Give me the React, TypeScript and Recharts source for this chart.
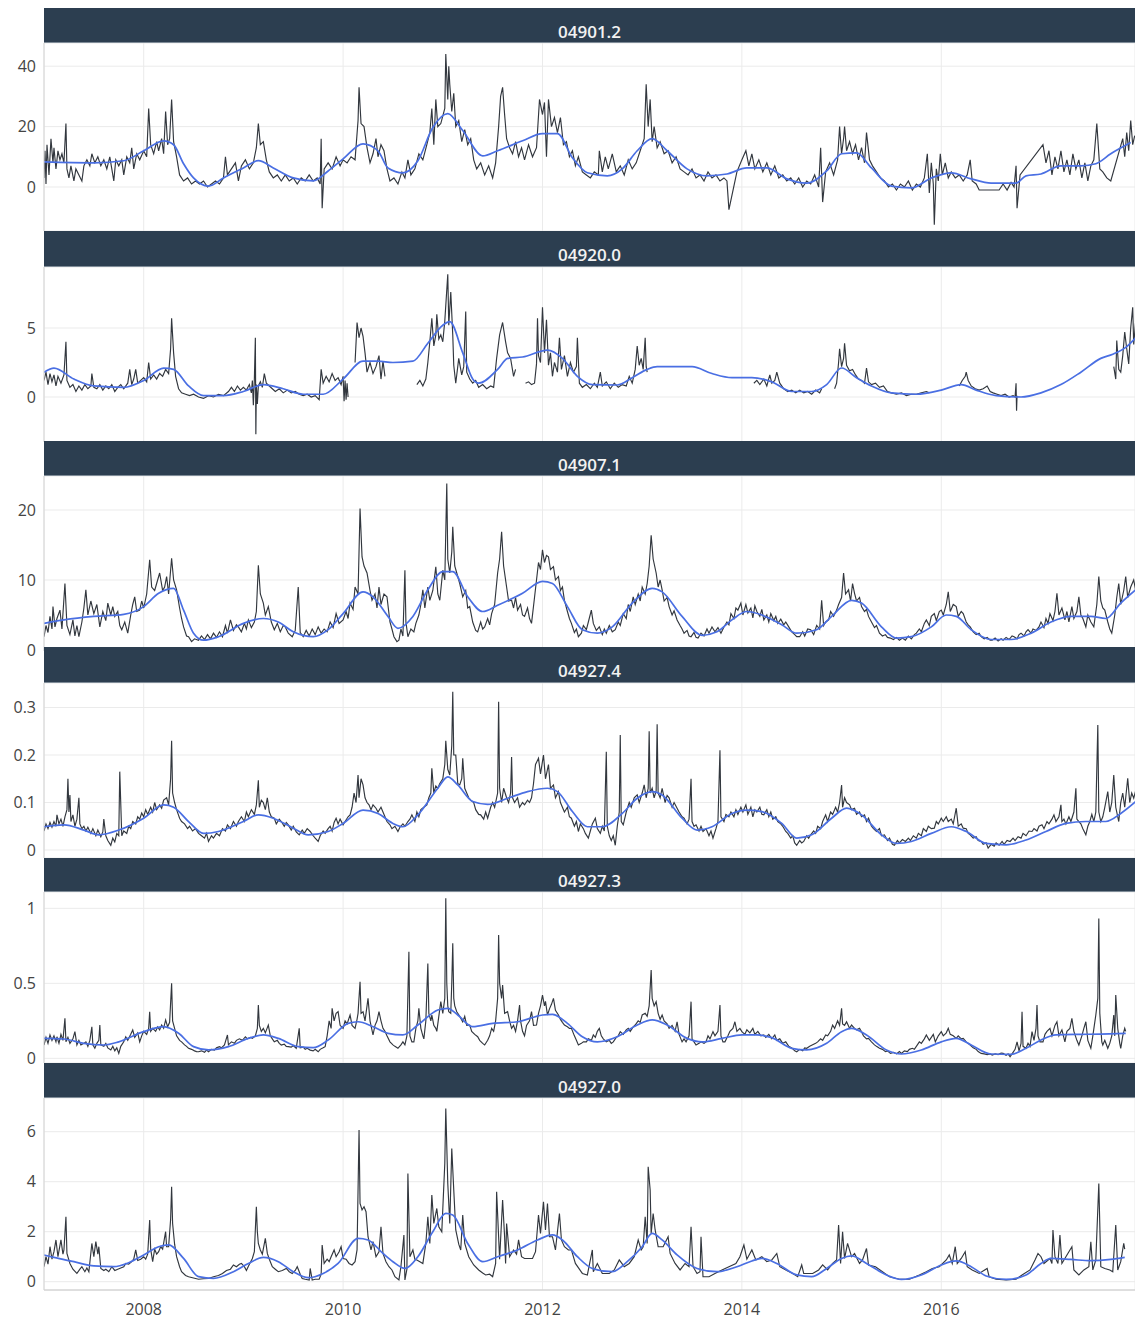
import React from 'react';
import { LineChart, Line, XAxis, YAxis, CartesianGrid } from 'recharts';

type Pt = [number, number | null];

const titles = ['04901.2', '04920.0', '04907.1', '04927.4', '04927.3', '04927.0'];
const xTicks = [2008, 2010, 2012, 2014, 2016];
const yTicks1 = [0, 20, 40];
const yTicks2 = [0, 5];
const yTicks3 = [0, 10, 20];
const yTicks4 = [0, 0.1, 0.2, 0.3];
const yTicks5 = [0, 0.5, 1];
const yTicks6 = [0, 2, 4, 6];

// ---------- 04901.2 ----------
const obs1: Pt[] = [
  [2007.0, 3], [2007.01, 12], [2007.02, 1], [2007.03, 14], [2007.05, 4], [2007.07, 16], [2007.09, 8], [2007.1, 13], [2007.12, 6], [2007.14, 12],
  [2007.16, 9], [2007.18, 11], [2007.2, 8], [2007.22, 21], [2007.23, 6], [2007.25, 3], [2007.27, 7], [2007.3, 2], [2007.32, 6], [2007.35, 4],
  [2007.38, 2], [2007.4, 7], [2007.43, 9], [2007.46, 7], [2007.48, 11], [2007.51, 8], [2007.54, 10], [2007.57, 7], [2007.6, 9], [2007.63, 6],
  [2007.66, 10], [2007.7, 2], [2007.72, 9], [2007.75, 7], [2007.78, 9], [2007.8, 4], [2007.83, 10], [2007.86, 8], [2007.88, 13], [2007.9, 6],
  [2007.93, 11], [2007.96, 9], [2008.0, 12], [2008.03, 10], [2008.05, 26], [2008.07, 14], [2008.1, 11], [2008.13, 15], [2008.15, 12], [2008.18, 16],
  [2008.2, 11], [2008.22, 25], [2008.24, 14], [2008.26, 16], [2008.28, 29], [2008.3, 15], [2008.33, 10], [2008.36, 4], [2008.4, 2], [2008.44, 3],
  [2008.48, 1], [2008.52, 2], [2008.56, 1], [2008.6, 2], [2008.64, 0], [2008.68, 1], [2008.72, 2], [2008.76, 1], [2008.8, 3], [2008.82, 10],
  [2008.84, 4], [2008.88, 6], [2008.92, 8], [2008.95, 2], [2008.98, 7], [2009.02, 9], [2009.06, 6], [2009.1, 8], [2009.13, 13], [2009.15, 21],
  [2009.17, 14], [2009.2, 15], [2009.23, 9], [2009.26, 5], [2009.3, 3], [2009.34, 4], [2009.38, 2], [2009.42, 4], [2009.46, 2], [2009.5, 3],
  [2009.54, 1], [2009.58, 3], [2009.62, 2], [2009.66, 4], [2009.7, 2], [2009.74, 3], [2009.77, 1], [2009.78, 16], [2009.79, -7], [2009.81, 6],
  [2009.85, 8], [2009.89, 6], [2009.93, 10], [2009.97, 7], [2010.0, 9], [2010.04, 8], [2010.08, 10], [2010.12, 9], [2010.15, 22], [2010.16, 33],
  [2010.18, 21], [2010.21, 20], [2010.24, 13], [2010.27, 8], [2010.3, 11], [2010.33, 16], [2010.35, 10], [2010.38, 14], [2010.41, 12], [2010.44, 6],
  [2010.47, 2], [2010.51, 3], [2010.55, 1], [2010.59, 5], [2010.62, 3], [2010.65, 9], [2010.68, 4], [2010.72, 6], [2010.76, 11], [2010.8, 9],
  [2010.84, 14], [2010.87, 18], [2010.89, 26], [2010.91, 14], [2010.93, 29], [2010.95, 20], [2010.98, 21], [2011.02, 26], [2011.03, 44], [2011.05, 29],
  [2011.06, 40], [2011.07, 34], [2011.09, 25], [2011.11, 31], [2011.13, 20], [2011.16, 22], [2011.19, 15], [2011.22, 19], [2011.25, 14], [2011.28, 16],
  [2011.31, 9], [2011.34, 6], [2011.38, 8], [2011.42, 4], [2011.46, 7], [2011.5, 3], [2011.53, 8], [2011.56, 20], [2011.58, 30], [2011.6, 33],
  [2011.62, 24], [2011.64, 16], [2011.67, 13], [2011.7, 11], [2011.73, 15], [2011.76, 10], [2011.79, 13], [2011.82, 9], [2011.86, 14], [2011.9, 10],
  [2011.94, 13], [2011.97, 29], [2012.0, 24], [2012.02, 28], [2012.04, 10], [2012.06, 29], [2012.09, 20], [2012.12, 23], [2012.15, 18], [2012.18, 23],
  [2012.21, 14], [2012.24, 15], [2012.27, 10], [2012.3, 12], [2012.33, 7], [2012.36, 10], [2012.4, 5], [2012.44, 4], [2012.48, 3], [2012.52, 5],
  [2012.56, 4], [2012.57, 12], [2012.6, 5], [2012.63, 10], [2012.66, 6], [2012.7, 11], [2012.74, 5], [2012.78, 7], [2012.82, 4], [2012.86, 9],
  [2012.9, 6], [2012.94, 8], [2012.98, 12], [2013.02, 16], [2013.04, 34], [2013.06, 20], [2013.08, 29], [2013.1, 15], [2013.12, 20], [2013.15, 13],
  [2013.18, 15], [2013.22, 11], [2013.26, 12], [2013.3, 8], [2013.34, 10], [2013.38, 6], [2013.42, 5], [2013.46, 4], [2013.5, 6], [2013.54, 3],
  [2013.58, 4], [2013.62, 2], [2013.66, 5], [2013.7, 3], [2013.74, 4], [2013.78, 2], [2013.82, 3], [2013.85, 2], [2013.87, -7.5], [2013.95, 5],
  [2014.0, 9], [2014.04, 12], [2014.07, 7], [2014.1, 11], [2014.13, 6], [2014.17, 9], [2014.21, 5], [2014.25, 8], [2014.29, 4], [2014.33, 7],
  [2014.37, 3], [2014.41, 4], [2014.45, 2], [2014.49, 3], [2014.53, 1], [2014.57, 3], [2014.61, 0], [2014.65, 2], [2014.69, 1], [2014.73, 4],
  [2014.77, 0], [2014.79, 13], [2014.81, -5], [2014.84, 5], [2014.88, 8], [2014.92, 4], [2014.96, 9], [2014.98, 20], [2015.0, 11], [2015.02, 16],
  [2015.03, 20], [2015.05, 12], [2015.08, 15], [2015.11, 11], [2015.14, 14], [2015.17, 9], [2015.2, 13], [2015.23, 8], [2015.25, 18], [2015.28, 9],
  [2015.31, 7], [2015.35, 5], [2015.39, 3], [2015.43, 2], [2015.47, 0], [2015.51, 1], [2015.55, -1], [2015.59, 1], [2015.63, 0], [2015.67, 2],
  [2015.71, -1], [2015.75, 1], [2015.79, 0], [2015.83, 3], [2015.86, 11], [2015.88, -2], [2015.9, 8], [2015.92, 1], [2015.93, -12.5], [2015.95, 6],
  [2015.97, 2], [2015.99, 11], [2016.01, 4], [2016.04, 8], [2016.07, 3], [2016.1, 5], [2016.14, 3], [2016.18, 4], [2016.22, 2], [2016.26, 4],
  [2016.29, 9], [2016.31, 2], [2016.35, 1], [2016.38, -1], [2016.58, -1], [2016.62, 1], [2016.66, -1], [2016.7, 1.5], [2016.73, 0], [2016.75, 7],
  [2016.76, -7], [2016.79, 4], [2017.02, 14], [2017.05, 8], [2017.08, 12], [2017.11, 4], [2017.14, 10], [2017.17, 6], [2017.2, 12], [2017.23, 5],
  [2017.26, 9], [2017.29, 4], [2017.32, 11], [2017.35, 6], [2017.38, 9], [2017.41, 3], [2017.44, 8], [2017.47, 2], [2017.5, 7], [2017.53, 9],
  [2017.56, 21], [2017.59, 6], [2017.62, 5], [2017.66, 3], [2017.7, 2], [2017.82, 16], [2017.84, 10], [2017.86, 18], [2017.88, 12], [2017.9, 22],
  [2017.92, 14], [2017.94, 17],
];
const trend1: Pt[] = [
  [2007.0, 8.3], [2007.5, 8.0], [2007.8, 8.7], [2008.0, 12], [2008.2, 15.3], [2008.3, 14], [2008.4, 7.7], [2008.5, 3], [2008.65, 0.3], [2008.8, 3],
  [2009.0, 6.3], [2009.15, 8.7], [2009.3, 6.3], [2009.5, 3], [2009.7, 2], [2009.85, 5.3], [2010.0, 9.3], [2010.2, 14.3], [2010.35, 12], [2010.45, 6.3],
  [2010.6, 4.7], [2010.75, 8.7], [2010.9, 19.7], [2011.05, 24.3], [2011.2, 18.7], [2011.4, 10.3], [2011.55, 12], [2011.8, 15.3], [2012.0, 17.7], [2012.15, 17.7],
  [2012.3, 9.7], [2012.45, 4.7], [2012.65, 3.7], [2012.8, 6], [2012.95, 12], [2013.1, 16], [2013.25, 12], [2013.45, 6], [2013.65, 3.7], [2013.85, 4.3],
  [2014.05, 6.3], [2014.25, 6.3], [2014.45, 2.7], [2014.65, 1.3], [2014.85, 5.3], [2015.0, 11], [2015.15, 11.3], [2015.3, 6.3], [2015.5, 0.3], [2015.7, -0.3],
  [2015.9, 3], [2016.1, 4.7], [2016.3, 2.7], [2016.5, 1.3], [2016.75, 1.3], [2016.85, 3.7], [2017.0, 4.3], [2017.2, 7], [2017.4, 7], [2017.55, 7.7],
  [2017.7, 11], [2017.9, 14.7],
];

// ---------- 04920.0 ----------
const obs2: Pt[] = [
  [2007.0, 1.2], [2007.02, 1.8], [2007.04, 0.9], [2007.06, 1.7], [2007.08, 1.1], [2007.1, 1.6], [2007.12, 0.8], [2007.14, 1.5], [2007.17, 1.0], [2007.2, 1.6],
  [2007.22, 4.0], [2007.23, 1.2], [2007.26, 0.7], [2007.29, 0.9], [2007.32, 0.4], [2007.35, 0.8], [2007.38, 0.5], [2007.41, 0.9], [2007.44, 0.6], [2007.47, 0.8],
  [2007.48, 1.7], [2007.5, 0.7], [2007.53, 0.6], [2007.56, 0.9], [2007.59, 0.5], [2007.62, 0.8], [2007.65, 0.6], [2007.68, 0.9], [2007.71, 0.4], [2007.74, 0.7],
  [2007.77, 0.9], [2007.8, 0.6], [2007.84, 1.0], [2007.86, 2.0], [2007.88, 0.9], [2007.9, 1.3], [2007.92, 2.0], [2007.94, 1.0], [2007.97, 1.2], [2008.0, 1.4],
  [2008.03, 1.1], [2008.05, 2.5], [2008.07, 1.3], [2008.1, 1.6], [2008.13, 1.3], [2008.16, 1.7], [2008.19, 1.5], [2008.22, 2.0], [2008.25, 1.7], [2008.27, 3.5],
  [2008.28, 5.7], [2008.3, 3.2], [2008.32, 1.5], [2008.35, 0.6], [2008.38, 0.3], [2008.42, 0.2], [2008.46, 0.1], [2008.5, 0.2], [2008.55, 0.0], [2008.6, -0.1],
  [2008.65, 0.1], [2008.7, 0.0], [2008.75, 0.2], [2008.8, 0.1], [2008.85, 0.4], [2008.88, 0.7], [2008.91, 0.4], [2008.94, 0.8], [2008.97, 0.5], [2009.0, 0.7],
  [2009.03, 0.5], [2009.06, 0.9], [2009.08, 0.3], [2009.09, 1.2], [2009.1, -0.6], [2009.11, 1.3], [2009.12, 4.3], [2009.125, -2.7], [2009.13, 0.9], [2009.14, -0.5],
  [2009.15, 0.8], [2009.17, 1.1], [2009.19, 0.7], [2009.21, 1.7], [2009.23, 1.0], [2009.26, 0.8], [2009.29, 0.6], [2009.32, 0.4], [2009.36, 0.6], [2009.4, 0.3],
  [2009.44, 0.5], [2009.48, 0.3], [2009.52, 0.4], [2009.56, 0.2], [2009.6, 0.1], [2009.64, 0.2], [2009.68, 0.0], [2009.72, 0.1], [2009.76, -0.2], [2009.78, 2.0],
  [2009.8, 1.0], [2009.83, 1.5], [2009.86, 1.1], [2009.89, 1.7], [2009.92, 1.2], [2009.95, 1.4], [2009.98, 0.9], [2010.0, 1.5], [2010.01, -0.3], [2010.02, 1.2],
  [2010.03, -0.2], [2010.04, 1.0], [2010.05, 0.0], [2010.06, null], [2010.12, 2.5], [2010.14, 5.4], [2010.16, 4.3], [2010.18, 5.0], [2010.2, 4.4], [2010.22, 3.2],
  [2010.24, 1.8], [2010.27, 2.5], [2010.3, 1.7], [2010.33, 2.2], [2010.36, 3.0], [2010.38, 1.3], [2010.4, 2.6], [2010.42, 1.5], [2010.43, null], [2010.74, 0.9],
  [2010.77, 1.2], [2010.8, 0.8], [2010.83, 1.3], [2010.85, 2.5], [2010.87, 4.0], [2010.89, 5.7], [2010.91, 3.7], [2010.93, 4.5], [2010.94, 6.0], [2010.96, 4.2],
  [2010.98, 4.5], [2011.0, 4.0], [2011.02, 5.5], [2011.05, 8.9], [2011.06, 5.2], [2011.08, 7.6], [2011.1, 4.5], [2011.11, 2.3], [2011.13, 1.0], [2011.16, 2.8],
  [2011.19, 1.6], [2011.21, 2.2], [2011.23, 6.2], [2011.24, 1.8], [2011.27, 1.3], [2011.3, 1.0], [2011.33, 1.2], [2011.36, 0.7], [2011.4, 0.9], [2011.44, 0.6],
  [2011.48, 0.8], [2011.51, 0.7], [2011.54, 2.8], [2011.57, 4.5], [2011.6, 5.4], [2011.63, 4.0], [2011.65, 3.2], [2011.68, 2.8], [2011.71, 1.5], [2011.73, 2.0],
  [2011.74, null], [2011.76, 1.9], [2011.765, null], [2011.83, 1.0], [2011.86, 1.1], [2011.89, 0.9], [2011.92, 1.0], [2011.94, 2.4], [2011.95, 5.7], [2011.96, 3.0],
  [2011.98, 2.5], [2012.0, 6.5], [2012.02, 3.2], [2012.04, 5.6], [2012.06, 2.3], [2012.08, 3.2], [2012.1, 1.5], [2012.12, 2.5], [2012.15, 1.8], [2012.17, 4.3],
  [2012.19, 2.0], [2012.22, 3.0], [2012.25, 1.5], [2012.28, 2.5], [2012.31, 1.8], [2012.34, 2.2], [2012.35, 4.3], [2012.37, 1.0], [2012.4, 0.7], [2012.44, 0.9],
  [2012.48, 0.6], [2012.52, 1.0], [2012.55, 0.7], [2012.58, 1.8], [2012.6, 0.8], [2012.64, 1.1], [2012.68, 0.6], [2012.72, 1.0], [2012.76, 0.7], [2012.8, 0.9],
  [2012.84, 0.8], [2012.87, 1.5], [2012.9, 1.0], [2012.93, 2.0], [2012.95, 3.7], [2012.97, 2.3], [2012.99, 2.8], [2013.01, 2.0], [2013.03, 4.3], [2013.04, 2.2],
  [2013.05, 1.8], [2013.06, null], [2014.12, 1.0], [2014.15, 1.2], [2014.18, 0.9], [2014.22, 1.3], [2014.25, 0.8], [2014.28, 1.6], [2014.3, 1.0], [2014.33, 1.2],
  [2014.35, 1.8], [2014.38, 1.0], [2014.42, 0.6], [2014.46, 0.4], [2014.5, 0.5], [2014.54, 0.3], [2014.58, 0.5], [2014.62, 0.3], [2014.66, 0.4], [2014.7, 0.2],
  [2014.74, 0.5], [2014.78, 0.3], [2014.8, 0.6], [2014.81, null], [2014.93, 0.6], [2014.95, 1.0], [2014.97, 2.5], [2014.98, 3.5], [2015.0, 2.2], [2015.02, 2.8],
  [2015.03, 3.9], [2015.05, 2.3], [2015.08, 1.9], [2015.11, 2.0], [2015.14, 1.6], [2015.17, 1.3], [2015.2, 1.2], [2015.23, 1.0], [2015.25, 2.1], [2015.27, 1.1],
  [2015.3, 0.9], [2015.34, 1.0], [2015.38, 0.7], [2015.42, 0.8], [2015.46, 0.4], [2015.5, 0.3], [2015.55, 0.2], [2015.6, 0.3], [2015.65, 0.1], [2015.7, 0.2],
  [2015.75, 0.2], [2015.8, 0.3], [2015.85, 0.4], [2015.88, 0.3], [2015.89, null], [2016.18, 0.8], [2016.21, 1.2], [2016.24, 1.5], [2016.25, 1.8], [2016.27, 1.2],
  [2016.3, 0.8], [2016.34, 0.6], [2016.38, 0.5], [2016.42, 0.6], [2016.46, 0.8], [2016.49, 0.4], [2016.52, 0.3], [2016.56, 0.2], [2016.6, 0.1], [2016.64, 0.2],
  [2016.68, 0.0], [2016.72, 0.1], [2016.74, 0.0], [2016.75, 1.0], [2016.755, -1.0], [2016.76, 0.1], [2016.77, null], [2017.73, 2.2], [2017.75, 1.3], [2017.76, 4.1],
  [2017.78, 2.0], [2017.8, 1.8], [2017.82, 3.0], [2017.84, 4.7], [2017.86, 3.5], [2017.88, 2.4], [2017.9, 5.0], [2017.92, 6.5], [2017.93, 3.8], [2017.95, 5.5],
];
const trend2: Pt[] = [
  [2007.0, 1.8], [2007.1, 2.1], [2007.3, 1.3], [2007.5, 0.8], [2007.8, 0.7], [2008.0, 1.2], [2008.2, 2.1], [2008.3, 2.0], [2008.45, 0.8], [2008.6, 0.1],
  [2008.8, 0.1], [2009.0, 0.4], [2009.2, 0.9], [2009.4, 0.6], [2009.6, 0.2], [2009.8, 0.2], [2010.0, 1.3], [2010.2, 2.6], [2010.35, 2.6], [2010.5, 2.5],
  [2010.7, 2.6], [2010.85, 3.9], [2011.0, 5.2], [2011.07, 5.46], [2011.2, 3.2], [2011.3, 1.3], [2011.36, 1.0], [2011.55, 2.0], [2011.65, 2.8], [2011.8, 2.9],
  [2012.05, 3.4], [2012.2, 2.8], [2012.35, 1.5], [2012.5, 0.9], [2012.75, 0.87], [2012.9, 1.4], [2013.05, 2.0], [2013.15, 2.2], [2013.5, 2.2], [2013.7, 1.7],
  [2013.9, 1.4], [2014.1, 1.4], [2014.3, 1.1], [2014.5, 0.4], [2014.7, 0.4], [2014.85, 0.9], [2015.0, 2.1], [2015.15, 1.4], [2015.3, 0.8], [2015.5, 0.3],
  [2015.75, 0.2], [2016.0, 0.5], [2016.2, 0.9], [2016.35, 0.5], [2016.55, 0.1], [2016.8, 0.0], [2017.0, 0.3], [2017.2, 0.9], [2017.4, 1.8], [2017.6, 2.8],
  [2017.72, 3.1], [2017.85, 3.6], [2017.95, 4.3],
];

// ---------- 04907.1 ----------
const obs3: Pt[] = [
  [2007.0, 1.9], [2007.02, 3.5], [2007.04, 2.5], [2007.06, 4.8], [2007.08, 3.0], [2007.09, 6.2], [2007.11, 3.3], [2007.13, 4.5], [2007.16, 5.7], [2007.18, 3.0],
  [2007.21, 9.5], [2007.23, 3.5], [2007.26, 2.2], [2007.29, 4.3], [2007.31, 2.0], [2007.33, 3.5], [2007.35, 1.9], [2007.38, 4.0], [2007.4, 6.0], [2007.42, 8.6],
  [2007.44, 5.0], [2007.47, 7.0], [2007.5, 5.2], [2007.53, 6.5], [2007.56, 3.3], [2007.59, 5.5], [2007.62, 4.2], [2007.64, 6.7], [2007.67, 5.0], [2007.69, 6.2],
  [2007.71, 4.8], [2007.74, 5.5], [2007.76, 3.5], [2007.78, 2.9], [2007.81, 4.0], [2007.84, 2.4], [2007.87, 5.0], [2007.89, 6.5], [2007.91, 7.6], [2007.93, 5.5],
  [2007.96, 5.7], [2007.98, 7.0], [2008.0, 6.0], [2008.03, 8.0], [2008.06, 12.9], [2008.08, 9.0], [2008.11, 8.5], [2008.13, 9.5], [2008.16, 11.0], [2008.19, 8.5],
  [2008.21, 9.0], [2008.23, 10.5], [2008.25, 8.0], [2008.28, 13.1], [2008.3, 10.0], [2008.33, 8.6], [2008.36, 6.0], [2008.38, 4.5], [2008.4, 3.3], [2008.43, 2.0],
  [2008.45, 1.9], [2008.48, 1.2], [2008.51, 1.6], [2008.55, 1.4], [2008.58, 2.0], [2008.61, 1.5], [2008.64, 2.2], [2008.67, 1.6], [2008.7, 2.4], [2008.73, 1.8],
  [2008.76, 2.6], [2008.79, 1.9], [2008.82, 3.5], [2008.84, 2.4], [2008.87, 4.3], [2008.9, 2.8], [2008.93, 3.6], [2008.95, 3.3], [2008.98, 2.6], [2009.01, 3.8],
  [2009.03, 3.0], [2009.05, 4.3], [2009.08, 3.2], [2009.11, 4.0], [2009.13, 5.5], [2009.15, 12.1], [2009.17, 8.0], [2009.2, 6.7], [2009.22, 5.0], [2009.25, 6.2],
  [2009.28, 4.0], [2009.31, 2.9], [2009.34, 3.8], [2009.37, 2.6], [2009.4, 3.5], [2009.42, 3.3], [2009.45, 2.4], [2009.49, 1.9], [2009.52, 2.8], [2009.55, 9.0],
  [2009.57, 2.5], [2009.6, 1.9], [2009.63, 2.8], [2009.66, 2.0], [2009.69, 3.0], [2009.72, 2.2], [2009.75, 3.3], [2009.78, 2.4], [2009.81, 3.0], [2009.84, 2.6],
  [2009.87, 4.0], [2009.9, 3.2], [2009.93, 5.2], [2009.96, 3.8], [2010.0, 4.3], [2010.03, 5.5], [2010.05, 4.5], [2010.07, 6.7], [2010.1, 5.8], [2010.12, 9.0],
  [2010.15, 8.0], [2010.17, 20.2], [2010.19, 13.3], [2010.21, 12.0], [2010.24, 11.0], [2010.27, 8.5], [2010.29, 7.1], [2010.32, 8.0], [2010.34, 6.0], [2010.36, 9.0],
  [2010.38, 6.5], [2010.41, 8.0], [2010.44, 7.6], [2010.47, 4.0], [2010.49, 3.0], [2010.51, 1.9], [2010.54, 1.2], [2010.56, 1.4], [2010.58, 3.0], [2010.6, 2.0],
  [2010.62, 11.4], [2010.63, 4.0], [2010.65, 1.9], [2010.68, 3.0], [2010.71, 2.6], [2010.73, 3.8], [2010.76, 5.0], [2010.78, 6.5], [2010.8, 8.6], [2010.82, 6.0],
  [2010.85, 9.0], [2010.87, 7.1], [2010.9, 8.5], [2010.93, 11.9], [2010.95, 8.0], [2010.97, 7.1], [2011.0, 11.4], [2011.02, 10.0], [2011.04, 23.8], [2011.05, 13.0],
  [2011.07, 11.0], [2011.09, 14.0], [2011.1, 17.6], [2011.12, 12.0], [2011.14, 11.0], [2011.17, 9.5], [2011.2, 7.6], [2011.23, 8.5], [2011.25, 6.0], [2011.27, 6.2],
  [2011.3, 4.0], [2011.33, 2.8], [2011.35, 2.6], [2011.38, 4.0], [2011.4, 3.0], [2011.42, 3.3], [2011.45, 4.5], [2011.47, 3.6], [2011.49, 5.2], [2011.52, 6.5],
  [2011.55, 11.0], [2011.57, 13.0], [2011.59, 16.9], [2011.61, 12.0], [2011.64, 9.0], [2011.66, 7.0], [2011.69, 7.1], [2011.71, 6.0], [2011.73, 7.5], [2011.75, 5.7],
  [2011.78, 6.5], [2011.8, 5.0], [2011.82, 4.8], [2011.85, 6.0], [2011.87, 4.5], [2011.89, 3.8], [2011.92, 7.5], [2011.94, 10.0], [2011.96, 12.5], [2011.98, 11.5],
  [2012.0, 14.3], [2012.02, 12.5], [2012.04, 13.5], [2012.06, 13.3], [2012.08, 11.5], [2012.11, 11.9], [2012.13, 10.0], [2012.16, 10.5], [2012.18, 8.5], [2012.2, 9.0],
  [2012.22, 7.1], [2012.25, 5.5], [2012.27, 4.5], [2012.29, 3.8], [2012.32, 2.5], [2012.34, 3.0], [2012.36, 1.9], [2012.39, 2.4], [2012.41, 3.5], [2012.44, 2.9],
  [2012.46, 4.0], [2012.49, 5.7], [2012.51, 3.8], [2012.54, 2.8], [2012.57, 3.3], [2012.6, 2.2], [2012.62, 3.0], [2012.64, 2.4], [2012.67, 3.5], [2012.7, 2.6],
  [2012.73, 2.9], [2012.76, 4.0], [2012.78, 3.5], [2012.81, 5.2], [2012.84, 4.5], [2012.86, 6.5], [2012.88, 5.5], [2012.91, 7.6], [2012.93, 6.5], [2012.96, 8.0],
  [2012.98, 7.0], [2013.0, 9.0], [2013.03, 8.0], [2013.05, 9.5], [2013.07, 12.0], [2013.09, 16.4], [2013.11, 13.0], [2013.14, 11.0], [2013.16, 9.0], [2013.18, 10.0],
  [2013.2, 8.6], [2013.22, 7.0], [2013.25, 7.5], [2013.27, 6.2], [2013.3, 5.0], [2013.32, 5.6], [2013.35, 4.3], [2013.38, 3.5], [2013.4, 3.0], [2013.42, 2.4],
  [2013.45, 2.8], [2013.47, 2.0], [2013.49, 1.9], [2013.52, 2.5], [2013.54, 1.8], [2013.56, 1.7], [2013.59, 2.4], [2013.62, 2.0], [2013.65, 3.0], [2013.67, 2.4],
  [2013.7, 3.3], [2013.73, 2.6], [2013.76, 3.2], [2013.79, 2.4], [2013.82, 3.3], [2013.85, 4.0], [2013.87, 3.6], [2013.89, 5.2], [2013.92, 4.5], [2013.94, 6.0],
  [2013.96, 5.7], [2013.99, 6.7], [2014.01, 5.0], [2014.04, 6.5], [2014.06, 5.3], [2014.09, 6.0], [2014.11, 4.6], [2014.13, 6.3], [2014.15, 5.5], [2014.18, 4.8],
  [2014.2, 5.8], [2014.22, 4.3], [2014.25, 5.0], [2014.27, 4.0], [2014.29, 5.2], [2014.32, 4.2], [2014.34, 4.8], [2014.36, 3.8], [2014.39, 4.4], [2014.42, 3.6],
  [2014.44, 4.0], [2014.47, 3.3], [2014.5, 2.6], [2014.53, 2.2], [2014.55, 1.9], [2014.58, 1.9], [2014.61, 2.6], [2014.63, 2.0], [2014.66, 3.0], [2014.69, 2.9],
  [2014.72, 2.2], [2014.75, 3.5], [2014.78, 3.0], [2014.8, 7.1], [2014.82, 3.5], [2014.84, 4.0], [2014.87, 4.3], [2014.89, 5.5], [2014.92, 4.8], [2014.95, 5.7],
  [2014.97, 6.5], [2015.0, 7.5], [2015.02, 11.0], [2015.04, 8.0], [2015.07, 8.6], [2015.09, 7.0], [2015.11, 9.5], [2015.13, 8.1], [2015.15, 7.0], [2015.18, 7.5],
  [2015.2, 6.2], [2015.23, 5.5], [2015.25, 5.8], [2015.27, 4.8], [2015.3, 4.0], [2015.33, 3.2], [2015.35, 3.5], [2015.38, 2.4], [2015.41, 2.0], [2015.44, 2.2],
  [2015.46, 1.8], [2015.49, 1.7], [2015.52, 1.5], [2015.55, 1.8], [2015.58, 1.4], [2015.61, 1.7], [2015.64, 1.4], [2015.67, 2.0], [2015.7, 1.6], [2015.73, 2.2],
  [2015.75, 2.4], [2015.78, 3.0], [2015.8, 2.6], [2015.83, 3.8], [2015.85, 4.3], [2015.88, 3.5], [2015.9, 4.8], [2015.93, 5.2], [2015.95, 4.2], [2015.98, 5.5],
  [2016.0, 5.7], [2016.02, 5.0], [2016.05, 6.5], [2016.07, 8.3], [2016.09, 5.5], [2016.12, 6.5], [2016.15, 6.2], [2016.17, 4.8], [2016.2, 5.5], [2016.22, 5.2],
  [2016.25, 4.0], [2016.27, 3.6], [2016.29, 3.3], [2016.32, 2.6], [2016.35, 2.2], [2016.38, 2.4], [2016.4, 1.9], [2016.43, 1.6], [2016.46, 1.8], [2016.49, 1.4],
  [2016.51, 1.4], [2016.54, 1.7], [2016.57, 1.3], [2016.6, 1.6], [2016.62, 1.4], [2016.65, 1.8], [2016.68, 1.5], [2016.71, 2.0], [2016.73, 1.9], [2016.76, 1.6],
  [2016.78, 2.2], [2016.8, 2.4], [2016.83, 2.0], [2016.85, 2.6], [2016.87, 2.9], [2016.9, 2.4], [2016.92, 3.0], [2016.95, 2.8], [2016.98, 3.3], [2017.0, 4.0],
  [2017.03, 3.2], [2017.05, 4.5], [2017.07, 3.8], [2017.09, 5.2], [2017.12, 4.2], [2017.14, 5.5], [2017.16, 8.1], [2017.18, 5.0], [2017.21, 6.0], [2017.24, 4.3],
  [2017.26, 5.5], [2017.28, 4.0], [2017.31, 6.2], [2017.33, 4.5], [2017.36, 5.5], [2017.38, 7.6], [2017.4, 5.0], [2017.42, 4.5], [2017.45, 3.3], [2017.47, 5.0],
  [2017.5, 4.0], [2017.53, 3.3], [2017.56, 6.5], [2017.58, 10.5], [2017.6, 7.0], [2017.62, 6.0], [2017.64, 5.7], [2017.67, 4.0], [2017.69, 3.0], [2017.71, 2.4],
  [2017.74, 5.0], [2017.76, 7.5], [2017.78, 9.5], [2017.8, 6.5], [2017.83, 8.5], [2017.85, 10.5], [2017.87, 7.5], [2017.9, 9.0], [2017.93, 10.0], [2017.95, 8.5],
];
const trend3: Pt[] = [
  [2007.0, 3.8], [2007.2, 4.3], [2007.5, 4.8], [2007.8, 5.1], [2008.0, 6.2], [2008.15, 8.1], [2008.3, 8.8], [2008.4, 5.7], [2008.5, 2.4], [2008.6, 1.4],
  [2008.75, 1.9], [2009.0, 3.8], [2009.2, 4.5], [2009.35, 4.0], [2009.5, 2.6], [2009.7, 1.9], [2009.85, 2.9], [2010.0, 5.2], [2010.2, 8.3], [2010.3, 7.6],
  [2010.45, 4.8], [2010.55, 3.1], [2010.7, 4.8], [2010.85, 8.6], [2011.0, 11.2], [2011.1, 11.2], [2011.25, 7.6], [2011.4, 5.5], [2011.55, 6.4], [2011.8, 8.1],
  [2012.0, 9.8], [2012.1, 9.5], [2012.25, 6.2], [2012.4, 2.9], [2012.55, 2.4], [2012.7, 3.3], [2012.9, 6.7], [2013.1, 8.8], [2013.2, 8.3], [2013.4, 4.8],
  [2013.6, 2.1], [2013.75, 2.6], [2013.9, 4.3], [2014.05, 5.5], [2014.2, 5.0], [2014.4, 3.6], [2014.55, 2.4], [2014.75, 2.9], [2014.9, 4.8], [2015.1, 7.1],
  [2015.2, 6.7], [2015.4, 3.3], [2015.55, 1.7], [2015.7, 1.9], [2015.9, 3.3], [2016.05, 5.0], [2016.15, 4.8], [2016.3, 2.9], [2016.5, 1.5], [2016.7, 1.5],
  [2016.9, 2.4], [2017.1, 4.0], [2017.3, 4.8], [2017.5, 4.8], [2017.65, 4.5], [2017.8, 6.7], [2017.95, 8.6],
];

// ---------- 04927.4 ----------
const obs4: Pt[] = [
  [2007.0, 0.04], [2007.02, 0.055], [2007.04, 0.045], [2007.06, 0.058], [2007.08, 0.048], [2007.1, 0.06], [2007.12, 0.05], [2007.13, 0.074], [2007.15, 0.055], [2007.17, 0.065],
  [2007.19, 0.05], [2007.21, 0.07], [2007.23, 0.085], [2007.24, 0.15], [2007.25, 0.08], [2007.26, 0.116], [2007.27, 0.06], [2007.29, 0.074], [2007.31, 0.05], [2007.33, 0.065],
  [2007.35, 0.11], [2007.36, 0.055], [2007.38, 0.045], [2007.4, 0.05], [2007.42, 0.04], [2007.44, 0.048], [2007.47, 0.035], [2007.49, 0.045], [2007.52, 0.03], [2007.54, 0.042],
  [2007.57, 0.028], [2007.59, 0.038], [2007.6, 0.065], [2007.62, 0.03], [2007.64, 0.02], [2007.67, 0.01], [2007.69, 0.025], [2007.71, 0.017], [2007.73, 0.035], [2007.75, 0.03],
  [2007.76, 0.165], [2007.78, 0.03], [2007.8, 0.04], [2007.83, 0.035], [2007.85, 0.05], [2007.87, 0.045], [2007.89, 0.06], [2007.92, 0.055], [2007.94, 0.07], [2007.96, 0.065],
  [2007.98, 0.078], [2008.0, 0.07], [2008.02, 0.085], [2008.04, 0.075], [2008.07, 0.09], [2008.09, 0.08], [2008.11, 0.1], [2008.13, 0.085], [2008.16, 0.095], [2008.18, 0.088],
  [2008.2, 0.105], [2008.23, 0.11], [2008.25, 0.095], [2008.27, 0.15], [2008.28, 0.23], [2008.29, 0.12], [2008.31, 0.1], [2008.33, 0.085], [2008.36, 0.067], [2008.38, 0.06],
  [2008.41, 0.055], [2008.44, 0.045], [2008.46, 0.05], [2008.49, 0.04], [2008.52, 0.045], [2008.55, 0.035], [2008.58, 0.03], [2008.61, 0.025], [2008.63, 0.035], [2008.65, 0.018],
  [2008.68, 0.03], [2008.7, 0.025], [2008.73, 0.035], [2008.76, 0.03], [2008.79, 0.045], [2008.82, 0.04], [2008.84, 0.053], [2008.87, 0.045], [2008.9, 0.06], [2008.93, 0.05],
  [2008.95, 0.06], [2008.98, 0.07], [2009.01, 0.06], [2009.03, 0.08], [2009.05, 0.07], [2009.08, 0.085], [2009.11, 0.075], [2009.13, 0.095], [2009.15, 0.147], [2009.16, 0.09],
  [2009.18, 0.105], [2009.2, 0.1], [2009.22, 0.085], [2009.24, 0.11], [2009.26, 0.08], [2009.28, 0.07], [2009.31, 0.067], [2009.33, 0.055], [2009.36, 0.065], [2009.38, 0.06],
  [2009.41, 0.05], [2009.43, 0.058], [2009.45, 0.053], [2009.48, 0.042], [2009.5, 0.05], [2009.53, 0.038], [2009.56, 0.032], [2009.59, 0.042], [2009.61, 0.035], [2009.64, 0.045],
  [2009.67, 0.039], [2009.7, 0.03], [2009.72, 0.025], [2009.75, 0.018], [2009.77, 0.03], [2009.8, 0.04], [2009.82, 0.035], [2009.85, 0.045], [2009.87, 0.05], [2009.89, 0.04],
  [2009.91, 0.058], [2009.93, 0.067], [2009.95, 0.055], [2009.97, 0.065], [2010.0, 0.053], [2010.02, 0.06], [2010.05, 0.07], [2010.07, 0.074], [2010.09, 0.09], [2010.11, 0.12],
  [2010.13, 0.1], [2010.15, 0.158], [2010.16, 0.11], [2010.18, 0.15], [2010.2, 0.137], [2010.22, 0.11], [2010.24, 0.1], [2010.26, 0.095], [2010.28, 0.085], [2010.3, 0.095],
  [2010.33, 0.088], [2010.35, 0.08], [2010.38, 0.09], [2010.4, 0.08], [2010.42, 0.07], [2010.44, 0.06], [2010.47, 0.053], [2010.49, 0.045], [2010.52, 0.05], [2010.55, 0.039],
  [2010.57, 0.048], [2010.6, 0.055], [2010.62, 0.05], [2010.65, 0.06], [2010.67, 0.065], [2010.69, 0.074], [2010.72, 0.06], [2010.74, 0.08], [2010.76, 0.07], [2010.78, 0.085],
  [2010.81, 0.09], [2010.84, 0.095], [2010.86, 0.11], [2010.88, 0.12], [2010.89, 0.172], [2010.91, 0.12], [2010.93, 0.135], [2010.95, 0.13], [2010.97, 0.14], [2011.0, 0.15],
  [2011.02, 0.18], [2011.03, 0.23], [2011.05, 0.17], [2011.07, 0.158], [2011.09, 0.22], [2011.1, 0.333], [2011.11, 0.2], [2011.13, 0.2], [2011.15, 0.14], [2011.17, 0.137],
  [2011.19, 0.15], [2011.2, 0.193], [2011.22, 0.13], [2011.24, 0.12], [2011.26, 0.11], [2011.28, 0.105], [2011.31, 0.1], [2011.33, 0.085], [2011.36, 0.075], [2011.38, 0.074],
  [2011.41, 0.065], [2011.43, 0.08], [2011.45, 0.067], [2011.48, 0.09], [2011.5, 0.1], [2011.52, 0.09], [2011.55, 0.12], [2011.56, 0.312], [2011.57, 0.13], [2011.59, 0.1],
  [2011.61, 0.13], [2011.64, 0.11], [2011.66, 0.1], [2011.68, 0.12], [2011.69, 0.196], [2011.7, 0.11], [2011.72, 0.1], [2011.75, 0.11], [2011.77, 0.09], [2011.8, 0.1],
  [2011.82, 0.095], [2011.85, 0.105], [2011.87, 0.1], [2011.89, 0.11], [2011.91, 0.14], [2011.93, 0.18], [2011.96, 0.193], [2011.98, 0.16], [2012.01, 0.2], [2012.03, 0.15],
  [2012.06, 0.18], [2012.08, 0.13], [2012.11, 0.137], [2012.13, 0.11], [2012.16, 0.123], [2012.18, 0.1], [2012.2, 0.09], [2012.22, 0.08], [2012.25, 0.09], [2012.27, 0.07],
  [2012.29, 0.067], [2012.32, 0.05], [2012.34, 0.06], [2012.36, 0.039], [2012.38, 0.055], [2012.41, 0.045], [2012.43, 0.035], [2012.46, 0.025], [2012.48, 0.04], [2012.5, 0.055],
  [2012.53, 0.067], [2012.55, 0.045], [2012.58, 0.035], [2012.6, 0.05], [2012.62, 0.04], [2012.64, 0.207], [2012.65, 0.05], [2012.67, 0.03], [2012.69, 0.02], [2012.71, 0.03],
  [2012.73, 0.01], [2012.75, 0.05], [2012.77, 0.08], [2012.78, 0.242], [2012.79, 0.06], [2012.81, 0.053], [2012.84, 0.08], [2012.87, 0.1], [2012.89, 0.09], [2012.92, 0.11],
  [2012.95, 0.116], [2012.97, 0.1], [2013.0, 0.12], [2013.02, 0.137], [2013.04, 0.11], [2013.06, 0.13], [2013.07, 0.25], [2013.08, 0.12], [2013.1, 0.13], [2013.12, 0.11],
  [2013.14, 0.125], [2013.15, 0.265], [2013.16, 0.12], [2013.18, 0.11], [2013.2, 0.13], [2013.23, 0.1], [2013.25, 0.115], [2013.27, 0.11], [2013.3, 0.09], [2013.32, 0.1],
  [2013.35, 0.088], [2013.37, 0.08], [2013.4, 0.07], [2013.42, 0.067], [2013.45, 0.055], [2013.47, 0.065], [2013.49, 0.15], [2013.5, 0.06], [2013.52, 0.05], [2013.54, 0.053],
  [2013.57, 0.04], [2013.59, 0.05], [2013.61, 0.039], [2013.64, 0.045], [2013.67, 0.03], [2013.69, 0.04], [2013.71, 0.025], [2013.74, 0.045], [2013.76, 0.06], [2013.78, 0.21],
  [2013.79, 0.07], [2013.82, 0.06], [2013.84, 0.075], [2013.87, 0.07], [2013.89, 0.08], [2013.92, 0.07], [2013.94, 0.085], [2013.96, 0.075], [2013.99, 0.09], [2014.01, 0.08],
  [2014.04, 0.095], [2014.06, 0.075], [2014.09, 0.09], [2014.11, 0.07], [2014.13, 0.085], [2014.15, 0.08], [2014.18, 0.09], [2014.2, 0.075], [2014.22, 0.074], [2014.25, 0.085],
  [2014.27, 0.07], [2014.29, 0.08], [2014.31, 0.065], [2014.34, 0.07], [2014.36, 0.06], [2014.39, 0.055], [2014.41, 0.05], [2014.44, 0.039], [2014.46, 0.035], [2014.49, 0.025],
  [2014.51, 0.03], [2014.53, 0.015], [2014.55, 0.01], [2014.58, 0.02], [2014.6, 0.015], [2014.62, 0.018], [2014.65, 0.03], [2014.67, 0.025], [2014.69, 0.032], [2014.72, 0.04],
  [2014.74, 0.035], [2014.76, 0.05], [2014.79, 0.045], [2014.81, 0.06], [2014.84, 0.074], [2014.86, 0.06], [2014.89, 0.08], [2014.91, 0.075], [2014.94, 0.09], [2014.96, 0.08],
  [2014.98, 0.1], [2015.0, 0.137], [2015.01, 0.09], [2015.03, 0.11], [2015.05, 0.1], [2015.08, 0.095], [2015.1, 0.085], [2015.13, 0.088], [2015.15, 0.075], [2015.18, 0.08],
  [2015.2, 0.07], [2015.23, 0.074], [2015.25, 0.06], [2015.27, 0.067], [2015.3, 0.05], [2015.32, 0.045], [2015.35, 0.039], [2015.38, 0.045], [2015.4, 0.03], [2015.43, 0.032],
  [2015.46, 0.02], [2015.48, 0.025], [2015.51, 0.012], [2015.53, 0.01], [2015.56, 0.02], [2015.58, 0.015], [2015.61, 0.022], [2015.64, 0.018], [2015.67, 0.025], [2015.69, 0.02],
  [2015.72, 0.03], [2015.75, 0.025], [2015.77, 0.035], [2015.8, 0.03], [2015.82, 0.045], [2015.85, 0.039], [2015.87, 0.05], [2015.9, 0.045], [2015.93, 0.046], [2015.95, 0.06],
  [2015.97, 0.055], [2016.0, 0.067], [2016.02, 0.06], [2016.05, 0.07], [2016.07, 0.06], [2016.1, 0.065], [2016.12, 0.055], [2016.15, 0.088], [2016.17, 0.05], [2016.2, 0.055],
  [2016.22, 0.046], [2016.25, 0.045], [2016.27, 0.035], [2016.29, 0.032], [2016.32, 0.025], [2016.35, 0.028], [2016.37, 0.02], [2016.4, 0.018], [2016.42, 0.012], [2016.45, 0.015],
  [2016.47, 0.004], [2016.5, 0.012], [2016.53, 0.008], [2016.55, 0.015], [2016.58, 0.01], [2016.61, 0.018], [2016.63, 0.012], [2016.66, 0.02], [2016.69, 0.018], [2016.72, 0.025],
  [2016.74, 0.02], [2016.77, 0.028], [2016.8, 0.025], [2016.82, 0.035], [2016.85, 0.03], [2016.88, 0.04], [2016.91, 0.039], [2016.93, 0.045], [2016.96, 0.04], [2016.98, 0.05],
  [2017.01, 0.053], [2017.03, 0.045], [2017.06, 0.06], [2017.08, 0.055], [2017.11, 0.065], [2017.13, 0.074], [2017.15, 0.06], [2017.18, 0.07], [2017.2, 0.095], [2017.21, 0.06],
  [2017.23, 0.065], [2017.25, 0.055], [2017.28, 0.07], [2017.3, 0.06], [2017.33, 0.08], [2017.35, 0.13], [2017.36, 0.065], [2017.38, 0.06], [2017.4, 0.055], [2017.42, 0.045],
  [2017.45, 0.032], [2017.47, 0.05], [2017.49, 0.06], [2017.51, 0.075], [2017.53, 0.06], [2017.55, 0.08], [2017.57, 0.263], [2017.58, 0.08], [2017.6, 0.06], [2017.62, 0.07],
  [2017.64, 0.09], [2017.67, 0.123], [2017.69, 0.08], [2017.71, 0.1], [2017.73, 0.158], [2017.75, 0.09], [2017.78, 0.06], [2017.8, 0.1], [2017.82, 0.12], [2017.84, 0.09],
  [2017.87, 0.151], [2017.89, 0.1], [2017.91, 0.12], [2017.93, 0.109], [2017.95, 0.125],
];
const trend4: Pt[] = [
  [2007.0, 0.049], [2007.2, 0.053], [2007.4, 0.042], [2007.55, 0.032], [2007.75, 0.042], [2008.0, 0.067], [2008.2, 0.095], [2008.3, 0.09], [2008.45, 0.06], [2008.6, 0.035],
  [2008.75, 0.039], [2009.0, 0.06], [2009.15, 0.074], [2009.3, 0.067], [2009.5, 0.046], [2009.65, 0.032], [2009.85, 0.039], [2010.0, 0.056], [2010.2, 0.084], [2010.35, 0.077],
  [2010.5, 0.056], [2010.6, 0.049], [2010.75, 0.074], [2010.95, 0.13], [2011.05, 0.154], [2011.15, 0.137], [2011.3, 0.102], [2011.45, 0.096], [2011.65, 0.109], [2011.85, 0.123],
  [2012.05, 0.13], [2012.15, 0.123], [2012.3, 0.081], [2012.45, 0.049], [2012.6, 0.049], [2012.8, 0.077], [2012.95, 0.109], [2013.1, 0.123], [2013.2, 0.116], [2013.4, 0.067],
  [2013.55, 0.042], [2013.7, 0.049], [2013.9, 0.077], [2014.05, 0.084], [2014.2, 0.081], [2014.4, 0.056], [2014.55, 0.025], [2014.7, 0.032], [2014.9, 0.067], [2015.05, 0.088],
  [2015.2, 0.074], [2015.4, 0.032], [2015.55, 0.014], [2015.7, 0.018], [2015.9, 0.035], [2016.1, 0.049], [2016.25, 0.039], [2016.45, 0.014], [2016.65, 0.011], [2016.85, 0.021],
  [2017.05, 0.039], [2017.25, 0.056], [2017.45, 0.06], [2017.65, 0.06], [2017.8, 0.077], [2017.95, 0.102],
];

// ---------- 04927.3 ----------
const obs5: Pt[] = [
  [2007.0, 0.089], [2007.02, 0.14], [2007.04, 0.1], [2007.06, 0.156], [2007.08, 0.12], [2007.1, 0.15], [2007.12, 0.11], [2007.13, 0.144], [2007.15, 0.1], [2007.17, 0.16],
  [2007.19, 0.12], [2007.21, 0.267], [2007.22, 0.11], [2007.24, 0.14], [2007.26, 0.1], [2007.29, 0.13], [2007.31, 0.178], [2007.33, 0.09], [2007.35, 0.12], [2007.37, 0.089],
  [2007.4, 0.1], [2007.42, 0.11], [2007.44, 0.08], [2007.46, 0.12], [2007.48, 0.21], [2007.49, 0.09], [2007.51, 0.067], [2007.53, 0.1], [2007.55, 0.12], [2007.56, 0.222],
  [2007.57, 0.09], [2007.6, 0.08], [2007.62, 0.1], [2007.64, 0.07], [2007.67, 0.056], [2007.69, 0.08], [2007.71, 0.05], [2007.73, 0.07], [2007.75, 0.033], [2007.77, 0.08],
  [2007.8, 0.11], [2007.82, 0.144], [2007.84, 0.12], [2007.87, 0.16], [2007.89, 0.189], [2007.91, 0.14], [2007.94, 0.17], [2007.96, 0.11], [2007.98, 0.15], [2008.0, 0.18],
  [2008.03, 0.16], [2008.05, 0.2], [2008.06, 0.311], [2008.07, 0.18], [2008.09, 0.2], [2008.12, 0.18], [2008.14, 0.21], [2008.16, 0.19], [2008.18, 0.222], [2008.2, 0.2],
  [2008.22, 0.256], [2008.24, 0.21], [2008.26, 0.24], [2008.28, 0.5], [2008.29, 0.25], [2008.31, 0.2], [2008.33, 0.15], [2008.36, 0.12], [2008.38, 0.11], [2008.41, 0.09],
  [2008.43, 0.08], [2008.45, 0.067], [2008.48, 0.06], [2008.51, 0.05], [2008.53, 0.045], [2008.55, 0.044], [2008.58, 0.05], [2008.61, 0.04], [2008.63, 0.055], [2008.65, 0.044],
  [2008.68, 0.06], [2008.71, 0.055], [2008.73, 0.07], [2008.76, 0.078], [2008.78, 0.07], [2008.81, 0.09], [2008.84, 0.156], [2008.85, 0.09], [2008.88, 0.11], [2008.91, 0.1],
  [2008.93, 0.12], [2008.96, 0.13], [2008.99, 0.12], [2009.02, 0.144], [2009.04, 0.13], [2009.07, 0.14], [2009.09, 0.133], [2009.12, 0.15], [2009.14, 0.2], [2009.15, 0.356],
  [2009.16, 0.22], [2009.18, 0.18], [2009.2, 0.2], [2009.22, 0.17], [2009.25, 0.222], [2009.27, 0.15], [2009.29, 0.13], [2009.31, 0.11], [2009.34, 0.12], [2009.36, 0.1],
  [2009.38, 0.089], [2009.41, 0.095], [2009.43, 0.08], [2009.45, 0.078], [2009.48, 0.075], [2009.5, 0.085], [2009.53, 0.067], [2009.56, 0.2], [2009.57, 0.07], [2009.6, 0.075],
  [2009.62, 0.06], [2009.64, 0.067], [2009.67, 0.055], [2009.7, 0.05], [2009.72, 0.06], [2009.75, 0.044], [2009.77, 0.06], [2009.8, 0.07], [2009.82, 0.078], [2009.84, 0.15],
  [2009.86, 0.25], [2009.88, 0.2], [2009.89, 0.333], [2009.91, 0.25], [2009.93, 0.3], [2009.95, 0.311], [2009.97, 0.22], [2010.0, 0.2], [2010.02, 0.25], [2010.04, 0.23],
  [2010.07, 0.289], [2010.09, 0.22], [2010.12, 0.2], [2010.14, 0.26], [2010.15, 0.3], [2010.17, 0.511], [2010.18, 0.3], [2010.2, 0.311], [2010.22, 0.25], [2010.25, 0.4],
  [2010.27, 0.25], [2010.3, 0.156], [2010.32, 0.22], [2010.34, 0.25], [2010.36, 0.311], [2010.38, 0.25], [2010.4, 0.2], [2010.42, 0.18], [2010.44, 0.15], [2010.47, 0.11],
  [2010.5, 0.09], [2010.52, 0.08], [2010.55, 0.067], [2010.58, 0.09], [2010.6, 0.11], [2010.62, 0.09], [2010.64, 0.15], [2010.66, 0.711], [2010.67, 0.15], [2010.69, 0.11],
  [2010.71, 0.11], [2010.73, 0.2], [2010.75, 0.25], [2010.76, 0.333], [2010.78, 0.2], [2010.8, 0.15], [2010.81, 0.13], [2010.83, 0.25], [2010.85, 0.633], [2010.86, 0.3],
  [2010.88, 0.25], [2010.89, 0.289], [2010.91, 0.22], [2010.93, 0.2], [2010.94, 0.18], [2010.96, 0.28], [2010.98, 0.378], [2011.0, 0.3], [2011.02, 0.4], [2011.03, 1.067],
  [2011.04, 0.5], [2011.05, 0.35], [2011.06, 0.311], [2011.08, 0.3], [2011.09, 0.5], [2011.1, 0.767], [2011.11, 0.4], [2011.12, 0.35], [2011.14, 0.311], [2011.17, 0.28],
  [2011.2, 0.244], [2011.22, 0.28], [2011.24, 0.22], [2011.27, 0.222], [2011.29, 0.18], [2011.32, 0.16], [2011.35, 0.144], [2011.37, 0.12], [2011.4, 0.1], [2011.42, 0.089],
  [2011.45, 0.12], [2011.47, 0.15], [2011.49, 0.2], [2011.51, 0.18], [2011.53, 0.25], [2011.55, 0.4], [2011.56, 0.822], [2011.57, 0.5], [2011.59, 0.4], [2011.6, 0.489],
  [2011.62, 0.3], [2011.65, 0.311], [2011.67, 0.25], [2011.69, 0.2], [2011.71, 0.22], [2011.73, 0.18], [2011.75, 0.25], [2011.77, 0.356], [2011.78, 0.25], [2011.8, 0.18],
  [2011.82, 0.15], [2011.84, 0.22], [2011.87, 0.25], [2011.89, 0.311], [2011.91, 0.22], [2011.94, 0.222], [2011.96, 0.3], [2011.98, 0.35], [2012.0, 0.422], [2012.02, 0.35],
  [2012.03, 0.38], [2012.05, 0.289], [2012.07, 0.33], [2012.09, 0.36], [2012.11, 0.4], [2012.13, 0.32], [2012.16, 0.289], [2012.18, 0.26], [2012.2, 0.24], [2012.22, 0.222],
  [2012.25, 0.21], [2012.27, 0.2], [2012.29, 0.2], [2012.32, 0.15], [2012.34, 0.12], [2012.36, 0.089], [2012.39, 0.1], [2012.41, 0.11], [2012.44, 0.11], [2012.46, 0.13],
  [2012.49, 0.12], [2012.51, 0.156], [2012.53, 0.14], [2012.55, 0.18], [2012.57, 0.2], [2012.59, 0.15], [2012.61, 0.13], [2012.64, 0.11], [2012.67, 0.12], [2012.69, 0.1],
  [2012.71, 0.11], [2012.74, 0.14], [2012.76, 0.15], [2012.78, 0.178], [2012.81, 0.16], [2012.84, 0.19], [2012.86, 0.2], [2012.88, 0.18], [2012.91, 0.21], [2012.93, 0.222],
  [2012.96, 0.25], [2012.98, 0.24], [2013.0, 0.289], [2013.03, 0.3], [2013.05, 0.28], [2013.07, 0.35], [2013.09, 0.589], [2013.1, 0.4], [2013.12, 0.35], [2013.14, 0.378],
  [2013.16, 0.3], [2013.18, 0.26], [2013.2, 0.289], [2013.22, 0.25], [2013.25, 0.23], [2013.27, 0.2], [2013.3, 0.22], [2013.33, 0.18], [2013.35, 0.244], [2013.37, 0.16],
  [2013.4, 0.11], [2013.42, 0.13], [2013.44, 0.11], [2013.47, 0.15], [2013.49, 0.378], [2013.5, 0.13], [2013.52, 0.11], [2013.54, 0.089], [2013.57, 0.1], [2013.59, 0.11],
  [2013.62, 0.1], [2013.64, 0.11], [2013.66, 0.15], [2013.68, 0.13], [2013.71, 0.178], [2013.73, 0.15], [2013.76, 0.18], [2013.78, 0.356], [2013.79, 0.15], [2013.81, 0.11],
  [2013.83, 0.11], [2013.86, 0.15], [2013.88, 0.18], [2013.91, 0.2], [2013.93, 0.244], [2013.95, 0.18], [2013.98, 0.2], [2014.0, 0.178], [2014.03, 0.16], [2014.05, 0.19],
  [2014.08, 0.17], [2014.11, 0.2], [2014.13, 0.16], [2014.16, 0.18], [2014.19, 0.15], [2014.22, 0.156], [2014.24, 0.14], [2014.27, 0.16], [2014.3, 0.13], [2014.33, 0.156],
  [2014.35, 0.12], [2014.38, 0.13], [2014.41, 0.1], [2014.44, 0.11], [2014.47, 0.08], [2014.5, 0.07], [2014.53, 0.05], [2014.55, 0.044], [2014.58, 0.06], [2014.61, 0.05],
  [2014.63, 0.07], [2014.65, 0.067], [2014.68, 0.08], [2014.71, 0.09], [2014.74, 0.1], [2014.76, 0.11], [2014.79, 0.13], [2014.81, 0.12], [2014.84, 0.156], [2014.86, 0.15],
  [2014.89, 0.18], [2014.91, 0.222], [2014.93, 0.2], [2014.96, 0.25], [2014.98, 0.22], [2015.0, 0.333], [2015.01, 0.23], [2015.03, 0.22], [2015.05, 0.244], [2015.08, 0.2],
  [2015.1, 0.222], [2015.13, 0.2], [2015.15, 0.19], [2015.18, 0.2], [2015.2, 0.178], [2015.22, 0.15], [2015.25, 0.13], [2015.27, 0.133], [2015.3, 0.11], [2015.33, 0.09],
  [2015.35, 0.08], [2015.38, 0.067], [2015.41, 0.06], [2015.44, 0.045], [2015.46, 0.05], [2015.49, 0.033], [2015.52, 0.04], [2015.55, 0.03], [2015.58, 0.045], [2015.6, 0.033],
  [2015.63, 0.05], [2015.66, 0.045], [2015.68, 0.06], [2015.71, 0.067], [2015.73, 0.06], [2015.76, 0.09], [2015.78, 0.11], [2015.8, 0.1], [2015.83, 0.13], [2015.85, 0.156],
  [2015.88, 0.12], [2015.9, 0.14], [2015.92, 0.16], [2015.94, 0.11], [2015.97, 0.15], [2016.0, 0.178], [2016.02, 0.15], [2016.05, 0.17], [2016.07, 0.2], [2016.09, 0.16],
  [2016.12, 0.15], [2016.15, 0.133], [2016.17, 0.15], [2016.2, 0.13], [2016.22, 0.133], [2016.25, 0.11], [2016.27, 0.1], [2016.29, 0.089], [2016.32, 0.07], [2016.35, 0.06],
  [2016.37, 0.045], [2016.4, 0.033], [2016.43, 0.03], [2016.46, 0.025], [2016.49, 0.03], [2016.51, 0.022], [2016.54, 0.03], [2016.57, 0.025], [2016.6, 0.035], [2016.62, 0.033],
  [2016.65, 0.02], [2016.67, 0.03], [2016.69, 0.011], [2016.72, 0.04], [2016.74, 0.06], [2016.76, 0.11], [2016.78, 0.05], [2016.8, 0.1], [2016.81, 0.311], [2016.82, 0.08],
  [2016.85, 0.067], [2016.87, 0.1], [2016.89, 0.08], [2016.91, 0.178], [2016.93, 0.12], [2016.95, 0.2], [2016.96, 0.356], [2016.97, 0.15], [2016.99, 0.11], [2017.02, 0.11],
  [2017.04, 0.16], [2017.06, 0.18], [2017.09, 0.2], [2017.11, 0.15], [2017.14, 0.22], [2017.16, 0.244], [2017.18, 0.15], [2017.21, 0.19], [2017.24, 0.11], [2017.26, 0.18],
  [2017.29, 0.2], [2017.31, 0.267], [2017.33, 0.18], [2017.36, 0.12], [2017.38, 0.089], [2017.41, 0.15], [2017.43, 0.2], [2017.45, 0.244], [2017.47, 0.12], [2017.5, 0.067],
  [2017.52, 0.15], [2017.55, 0.289], [2017.57, 0.4], [2017.58, 0.933], [2017.59, 0.3], [2017.61, 0.11], [2017.62, 0.089], [2017.64, 0.12], [2017.67, 0.067], [2017.69, 0.1],
  [2017.71, 0.15], [2017.73, 0.289], [2017.74, 0.15], [2017.75, 0.422], [2017.77, 0.2], [2017.79, 0.1], [2017.8, 0.067], [2017.82, 0.15], [2017.84, 0.2], [2017.85, 0.18],
];
const trend5: Pt[] = [
  [2007.0, 0.133], [2007.2, 0.129], [2007.4, 0.1], [2007.6, 0.089], [2007.75, 0.11], [2008.0, 0.178], [2008.2, 0.211], [2008.35, 0.167], [2008.5, 0.078], [2008.65, 0.056],
  [2008.85, 0.078], [2009.05, 0.133], [2009.2, 0.156], [2009.35, 0.133], [2009.55, 0.078], [2009.7, 0.071], [2009.85, 0.122], [2010.05, 0.233], [2010.15, 0.244], [2010.3, 0.211],
  [2010.45, 0.167], [2010.6, 0.156], [2010.75, 0.222], [2010.95, 0.322], [2011.05, 0.333], [2011.15, 0.289], [2011.3, 0.211], [2011.5, 0.233], [2011.75, 0.244], [2012.0, 0.289],
  [2012.1, 0.293], [2012.25, 0.233], [2012.4, 0.144], [2012.55, 0.11], [2012.75, 0.144], [2012.95, 0.222], [2013.1, 0.256], [2013.25, 0.222], [2013.45, 0.133], [2013.6, 0.11],
  [2013.8, 0.133], [2014.0, 0.156], [2014.15, 0.156], [2014.3, 0.138], [2014.5, 0.067], [2014.65, 0.056], [2014.85, 0.1], [2015.0, 0.178], [2015.1, 0.2], [2015.25, 0.156],
  [2015.45, 0.056], [2015.6, 0.029], [2015.8, 0.056], [2016.0, 0.11], [2016.15, 0.133], [2016.3, 0.089], [2016.5, 0.029], [2016.7, 0.027], [2016.85, 0.067], [2017.0, 0.122],
  [2017.15, 0.156], [2017.4, 0.16], [2017.6, 0.162], [2017.85, 0.167],
];

// ---------- 04927.0 ----------
const obs6: Pt[] = [
  [2007.0, 0.6], [2007.02, 1.0], [2007.04, 0.7], [2007.06, 1.4], [2007.08, 0.9], [2007.1, 1.2], [2007.12, 1.67], [2007.14, 1.0], [2007.17, 1.67], [2007.19, 1.1],
  [2007.2, 1.27], [2007.22, 2.6], [2007.23, 1.13], [2007.26, 0.73], [2007.29, 0.5], [2007.33, 0.33], [2007.36, 0.5], [2007.38, 0.6], [2007.41, 0.4], [2007.43, 0.55],
  [2007.45, 0.4], [2007.48, 1.53], [2007.5, 1.0], [2007.52, 1.6], [2007.54, 1.1], [2007.55, 1.4], [2007.57, 0.53], [2007.6, 0.45], [2007.62, 0.5], [2007.65, 0.4],
  [2007.68, 0.6], [2007.71, 0.45], [2007.74, 0.5], [2007.77, 0.55], [2007.8, 0.6], [2007.82, 0.73], [2007.85, 0.7], [2007.88, 0.8], [2007.9, 0.9], [2007.92, 1.27],
  [2007.94, 0.85], [2007.97, 0.9], [2008.0, 1.0], [2008.02, 0.9], [2008.04, 1.1], [2008.06, 2.47], [2008.07, 1.3], [2008.09, 0.8], [2008.11, 1.3], [2008.13, 1.1],
  [2008.15, 1.2], [2008.17, 1.4], [2008.19, 1.3], [2008.22, 2.0], [2008.23, 1.4], [2008.25, 1.4], [2008.27, 2.5], [2008.28, 3.8], [2008.29, 2.33], [2008.31, 1.5],
  [2008.33, 1.0], [2008.36, 0.6], [2008.38, 0.4], [2008.42, 0.25], [2008.45, 0.2], [2008.5, 0.15], [2008.55, 0.1], [2008.6, 0.12], [2008.65, 0.13], [2008.7, 0.2],
  [2008.75, 0.25], [2008.79, 0.33], [2008.83, 0.45], [2008.87, 0.5], [2008.9, 0.67], [2008.93, 0.6], [2008.96, 0.7], [2008.98, 0.73], [2009.01, 0.6], [2009.03, 0.45],
  [2009.06, 0.7], [2009.09, 0.93], [2009.11, 1.2], [2009.13, 3.0], [2009.14, 2.0], [2009.15, 1.53], [2009.17, 1.27], [2009.19, 1.1], [2009.22, 1.73], [2009.24, 1.13],
  [2009.26, 0.9], [2009.29, 0.6], [2009.32, 0.5], [2009.35, 0.4], [2009.39, 0.45], [2009.43, 0.53], [2009.46, 0.4], [2009.49, 0.33], [2009.52, 0.45], [2009.54, 0.6],
  [2009.57, 0.3], [2009.59, 0.13], [2009.62, 0.1], [2009.66, 0.07], [2009.67, 0.53], [2009.69, 0.07], [2009.72, 0.1], [2009.76, 0.1], [2009.78, 0.3], [2009.79, 1.47],
  [2009.81, 0.73], [2009.84, 0.9], [2009.86, 0.8], [2009.88, 1.0], [2009.91, 1.27], [2009.93, 1.0], [2009.96, 1.2], [2009.98, 1.4], [2010.0, 0.93], [2010.03, 0.9],
  [2010.06, 0.73], [2010.09, 0.67], [2010.12, 0.8], [2010.14, 1.27], [2010.16, 6.07], [2010.17, 3.13], [2010.19, 2.87], [2010.21, 3.0], [2010.23, 2.8], [2010.25, 1.8],
  [2010.28, 1.27], [2010.3, 1.6], [2010.33, 1.0], [2010.36, 1.2], [2010.38, 2.2], [2010.4, 1.13], [2010.43, 0.8], [2010.46, 0.6], [2010.49, 0.47], [2010.52, 0.2],
  [2010.56, 0.07], [2010.58, 0.6], [2010.61, 1.87], [2010.62, 0.07], [2010.64, 0.5], [2010.65, 4.33], [2010.67, 1.0], [2010.7, 1.27], [2010.72, 0.9], [2010.74, 0.87],
  [2010.77, 0.8], [2010.8, 0.73], [2010.83, 1.53], [2010.85, 2.6], [2010.87, 1.53], [2010.89, 3.47], [2010.91, 2.33], [2010.94, 2.93], [2010.96, 2.2], [2010.99, 2.0],
  [2011.02, 4.73], [2011.03, 6.93], [2011.05, 3.93], [2011.07, 2.33], [2011.09, 5.33], [2011.11, 3.67], [2011.13, 2.07], [2011.16, 1.5], [2011.18, 1.27], [2011.2, 2.67],
  [2011.22, 1.53], [2011.26, 1.0], [2011.31, 0.67], [2011.36, 0.47], [2011.4, 0.35], [2011.43, 0.27], [2011.47, 0.3], [2011.5, 0.2], [2011.53, 0.73], [2011.54, 3.6],
  [2011.56, 1.8], [2011.57, 0.9], [2011.6, 3.27], [2011.62, 1.8], [2011.63, 0.73], [2011.64, 2.33], [2011.67, 1.0], [2011.71, 1.27], [2011.74, 1.1], [2011.76, 1.67],
  [2011.79, 1.0], [2011.82, 0.93], [2011.85, 0.93], [2011.9, 0.93], [2011.93, 1.2], [2011.96, 2.67], [2011.98, 1.93], [2012.01, 3.2], [2012.03, 2.07], [2012.05, 3.13],
  [2012.07, 1.8], [2012.1, 1.8], [2012.13, 1.27], [2012.17, 2.73], [2012.19, 1.67], [2012.22, 1.4], [2012.26, 1.27], [2012.29, 1.27], [2012.33, 0.73], [2012.37, 0.5],
  [2012.4, 0.33], [2012.45, 0.27], [2012.5, 1.27], [2012.51, 0.4], [2012.55, 0.73], [2012.6, 0.33], [2012.67, 0.33], [2012.72, 0.47], [2012.77, 0.87], [2012.82, 0.6],
  [2012.87, 0.73], [2012.92, 1.0], [2012.96, 1.67], [2012.99, 1.27], [2013.01, 1.4], [2013.03, 2.6], [2013.05, 1.53], [2013.06, 4.6], [2013.08, 3.67], [2013.09, 1.93],
  [2013.11, 2.73], [2013.13, 2.07], [2013.16, 1.4], [2013.21, 1.4], [2013.26, 1.8], [2013.28, 1.13], [2013.33, 0.73], [2013.38, 0.47], [2013.43, 0.73], [2013.47, 0.6],
  [2013.49, 2.2], [2013.51, 0.6], [2013.55, 0.33], [2013.58, 0.4], [2013.59, 1.8], [2013.61, 0.2], [2013.67, 0.2], [2013.73, 0.33], [2013.8, 0.47], [2013.87, 0.6],
  [2013.94, 0.73], [2013.98, 1.0], [2014.02, 1.47], [2014.05, 0.9], [2014.1, 1.27], [2014.14, 0.87], [2014.2, 1.0], [2014.25, 0.8], [2014.3, 0.87], [2014.35, 1.13],
  [2014.38, 0.6], [2014.45, 0.45], [2014.51, 0.33], [2014.56, 0.2], [2014.6, 0.67], [2014.62, 0.33], [2014.66, 0.33], [2014.71, 0.33], [2014.77, 0.47], [2014.81, 0.67],
  [2014.86, 0.47], [2014.91, 0.73], [2014.95, 0.87], [2014.97, 2.27], [2014.99, 0.73], [2015.01, 2.0], [2015.03, 0.93], [2015.06, 1.53], [2015.1, 1.0], [2015.13, 1.13],
  [2015.18, 0.73], [2015.21, 0.87], [2015.25, 1.33], [2015.27, 0.67], [2015.34, 0.6], [2015.41, 0.4], [2015.48, 0.2], [2015.58, 0.1], [2015.68, 0.1], [2015.78, 0.27],
  [2015.85, 0.4], [2015.91, 0.53], [2015.98, 0.6], [2016.05, 0.87], [2016.08, 1.07], [2016.11, 0.73], [2016.14, 1.4], [2016.16, 0.73], [2016.2, 0.93], [2016.24, 1.2],
  [2016.26, 0.6], [2016.31, 0.47], [2016.38, 0.33], [2016.46, 0.53], [2016.48, 0.2], [2016.55, 0.1], [2016.65, 0.07], [2016.75, 0.1], [2016.81, 0.27], [2016.89, 0.47],
  [2016.94, 0.87], [2016.97, 1.13], [2017.0, 1.0], [2017.03, 0.73], [2017.09, 0.93], [2017.11, 0.73], [2017.12, 2.07], [2017.14, 1.0], [2017.17, 0.73], [2017.19, 1.87],
  [2017.21, 0.73], [2017.25, 1.0], [2017.31, 1.4], [2017.33, 0.47], [2017.38, 0.27], [2017.43, 0.47], [2017.48, 0.6], [2017.5, 1.6], [2017.52, 0.47], [2017.55, 0.87],
  [2017.58, 3.93], [2017.6, 0.6], [2017.64, 0.53], [2017.69, 0.47], [2017.72, 0.4], [2017.75, 2.27], [2017.77, 0.47], [2017.8, 0.8], [2017.83, 1.53], [2017.84, 1.3],
];
const trend6: Pt[] = [
  [2007.0, 1.07], [2007.1, 0.97], [2007.3, 0.8], [2007.5, 0.63], [2007.7, 0.6], [2007.85, 0.76], [2008.0, 1.07], [2008.15, 1.4], [2008.25, 1.47], [2008.4, 0.93],
  [2008.55, 0.2], [2008.7, 0.13], [2008.9, 0.4], [2009.05, 0.73], [2009.2, 0.97], [2009.35, 0.8], [2009.5, 0.4], [2009.65, 0.16], [2009.8, 0.33], [2009.95, 0.73],
  [2010.15, 1.73], [2010.25, 1.67], [2010.4, 1.13], [2010.5, 0.8], [2010.62, 0.53], [2010.75, 1.0], [2010.9, 2.0], [2011.03, 2.73], [2011.1, 2.67], [2011.25, 1.53],
  [2011.4, 0.8], [2011.55, 1.0], [2011.75, 1.27], [2011.95, 1.67], [2012.1, 1.87], [2012.2, 1.67], [2012.35, 1.0], [2012.5, 0.53], [2012.7, 0.4], [2012.85, 0.8],
  [2013.0, 1.4], [2013.1, 1.93], [2013.2, 1.67], [2013.35, 1.07], [2013.55, 0.53], [2013.75, 0.4], [2013.95, 0.6], [2014.1, 0.83], [2014.2, 0.93], [2014.35, 0.73],
  [2014.55, 0.27], [2014.7, 0.2], [2014.85, 0.53], [2015.0, 0.93], [2015.1, 1.03], [2015.25, 0.73], [2015.45, 0.27], [2015.6, 0.09], [2015.8, 0.27], [2016.0, 0.67],
  [2016.15, 0.83], [2016.3, 0.6], [2016.45, 0.23], [2016.65, 0.09], [2016.85, 0.27], [2017.0, 0.73], [2017.1, 0.93], [2017.3, 0.89], [2017.5, 0.84], [2017.7, 0.89],
  [2017.84, 0.97],
];

const X_DOMAIN: [number, number] = [2007.0, 2017.943];
const OBS_COLOR = '#32373e';
const TREND_COLOR = '#4a6fe3';
const HEADER_BG = '#2c3e50';

interface PanelSpec {
  title: string;
  headerTop: number;
  headerH: number;
  plotTop: number;
  plotBottom: number;
  domain: [number, number];
  ticks: number[];
  obs: Pt[];
  trend: Pt[];
  showX: boolean;
}

const panels: PanelSpec[] = [
  { title: titles[0], headerTop: 8, headerH: 35, plotTop: 43, plotBottom: 231, domain: [-14.57, 47.68], ticks: yTicks1, obs: obs1, trend: trend1, showX: false },
  { title: titles[1], headerTop: 231, headerH: 36, plotTop: 267, plotBottom: 442, domain: [-3.26, 9.42], ticks: yTicks2, obs: obs2, trend: trend2, showX: false },
  { title: titles[2], headerTop: 441, headerH: 35, plotTop: 476, plotBottom: 651, domain: [-0.143, 24.857], ticks: yTicks3, obs: obs3, trend: trend3, showX: false },
  { title: titles[3], headerTop: 647, headerH: 36, plotTop: 683, plotBottom: 858, domain: [-0.0168, 0.3516], ticks: yTicks4, obs: obs4, trend: trend4, showX: false },
  { title: titles[4], headerTop: 858, headerH: 34, plotTop: 892, plotBottom: 1063, domain: [-0.031, 1.109], ticks: yTicks5, obs: obs5, trend: trend5, showX: false },
  { title: titles[5], headerTop: 1063, headerH: 35, plotTop: 1098, plotBottom: 1290, domain: [-0.332, 7.348], ticks: yTicks6, obs: obs6, trend: trend6, showX: true },
];

const toRows = (pts: Pt[]) => pts.map(([t, v]) => ({ t, v }));

const X_AXIS_H = 34;
const EmptyTick = () => <g />;

function PanelChart({ p }: { p: PanelSpec }) {
  const plotH = p.plotBottom - p.plotTop;
  const h = plotH + (p.showX ? X_AXIS_H : 0);
  return (
    <div style={{ position: 'absolute', left: 0, top: p.plotTop, width: 1135, height: h }}>
      <LineChart width={1135} height={h} margin={{ top: 0, right: 0, bottom: 0, left: 0 }}>
        <CartesianGrid stroke="#ebebeb" strokeWidth={1} />
        <XAxis
          type="number"
          dataKey="t"
          domain={X_DOMAIN}
          allowDataOverflow
          ticks={xTicks}
          interval={0}
          height={p.showX ? X_AXIS_H : 0}
          tick={p.showX ? { fontSize: 16, fill: '#444' } : EmptyTick}
          axisLine={p.showX ? { stroke: '#c8c8c8' } : false}
          tickLine={false}
          tickMargin={8}
        />
        <YAxis
          type="number"
          domain={p.domain}
          allowDataOverflow
          ticks={p.ticks}
          interval={0}
          width={44}
          axisLine={{ stroke: '#d4d4d4' }}
          tickLine={false}
          tick={{ fontSize: 16, fill: '#444' }}
        />
        <Line
          data={toRows(p.obs)}
          dataKey="v"
          type="linear"
          stroke={OBS_COLOR}
          strokeWidth={1.15}
          dot={false}
          activeDot={false}
          connectNulls={false}
          isAnimationActive={false}
        />
        <Line
          data={toRows(p.trend)}
          dataKey="v"
          type="monotone"
          stroke={TREND_COLOR}
          strokeWidth={1.7}
          dot={false}
          activeDot={false}
          isAnimationActive={false}
        />
      </LineChart>
    </div>
  );
}

function Header({ p }: { p: PanelSpec }) {
  return (
    <div
      style={{
        position: 'absolute',
        left: 44,
        top: p.headerTop,
        width: 1091,
        height: p.headerH,
        background: HEADER_BG,
        color: '#f2f2f2',
        fontSize: 17,
        fontWeight: 600,
        textAlign: 'center',
        lineHeight: `${p.headerH}px`,
        borderBottom: '1px solid #7f8c98',
        boxSizing: 'border-box',
      }}
    >
      <span style={{ position: 'relative', top: 6 }}>{p.title}</span>
    </div>
  );
}

export default function App() {
  return (
    <div
      style={{
        position: 'absolute',
        left: 0,
        top: 0,
        width: 1135,
        height: 1322,
        background: '#ffffff',
        overflow: 'hidden',
        fontFamily: '"Open Sans", "Noto Sans", sans-serif',
      }}
    >
      <style>{`.recharts-surface { overflow: visible; }`}</style>
      {panels.map((p) => (
        <PanelChart key={p.title} p={p} />
      ))}
      {panels.map((p) => (
        <Header key={'h' + p.title} p={p} />
      ))}
    </div>
  );
}
